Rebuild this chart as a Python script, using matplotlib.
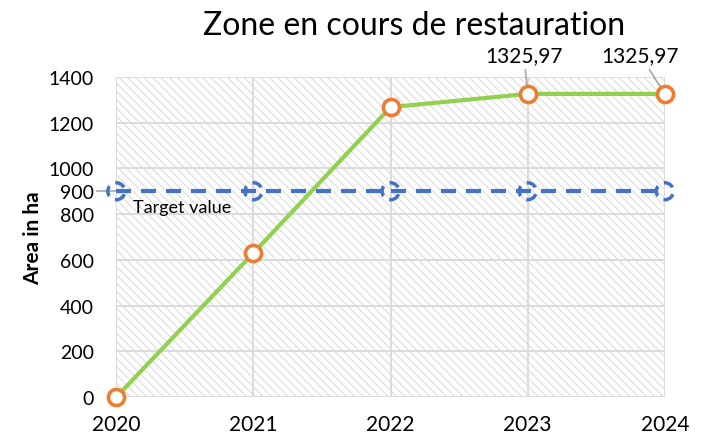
import matplotlib
matplotlib.use("Agg")
import matplotlib.pyplot as plt
from matplotlib.patches import Rectangle

plt.rcParams["font.family"] = ["Lato", "DejaVu Sans"]
plt.rcParams["hatch.linewidth"] = 0.8

years = ["2020", "2021", "2022", "2023", "2024"]
area = [0, 630, 1268, 1325.97, 1325.97]
target = [900, 900, 900, 900, 900]
yticks = [0, 200, 400, 600, 800, 900, 1000, 1200, 1400]

GREEN = "#92D050"
ORANGE = "#ED7D31"
BLUE = "#4472C4"
GRID = "#D9D9D9"

fig = plt.figure(figsize=(7.05, 4.39), dpi=100)
ax = fig.add_axes([0.165, 0.0934, 0.778, 0.729])
x = list(range(len(years)))

ax.set_xlim(0, len(years) - 1)
ax.set_ylim(0, 1400)

# hachures de fond
ax.add_patch(Rectangle((0, 0), 1, 1, transform=ax.transAxes, facecolor="white",
                       edgecolor="#DCDCDC", linewidth=0, hatch="\\\\\\\\", zorder=0))

for yv in [0, 200, 400, 600, 800, 1000, 1200, 1400]:
    ax.axhline(yv, color=GRID, lw=1.3, zorder=1)
for xv in x:
    ax.axvline(xv, color=GRID, lw=1.3, zorder=1)

ax.plot(x, target, color=BLUE, lw=3, ls=(0, (3.6, 2.4)), zorder=3, clip_on=False)
ax.scatter(x, target, s=150, facecolor="none", edgecolor=BLUE, linewidths=2.5,
           linestyle=(0, (3, 2)), zorder=4, clip_on=False)

ax.plot(x, area, color=GREEN, lw=3, zorder=5, clip_on=False)
ax.scatter(x, area, s=135, facecolor="white", edgecolor=ORANGE, linewidths=2.6,
           zorder=6, clip_on=False)

ax.text(0.12, 830, "Target value", fontsize=13, ha="left", va="center", zorder=7)

# étiquettes de données
ax.annotate("1325,97", xy=(x[3], area[3]), xytext=(x[3] - 0.31, 1450),
            fontsize=15, ha="left", va="bottom",
            arrowprops=dict(arrowstyle="-", color="#A6A6A6", lw=1.2,
                            shrinkA=1, shrinkB=5))
ax.annotate("1325,97", xy=(x[4], area[4]), xytext=(x[4] - 0.46, 1450),
            fontsize=15, ha="left", va="bottom",
            arrowprops=dict(arrowstyle="-", color="#A6A6A6", lw=1.2,
                            shrinkA=1, shrinkB=5))

ax.set_yticks(yticks)
ax.set_yticklabels([str(v) for v in yticks], fontsize=14)
ax.set_xticks(x)
ax.set_xticklabels(years, fontsize=15)
ax.tick_params(axis="y", length=0, pad=16)
ax.tick_params(axis="x", length=0, pad=12)
ax.plot([-0.14, 0], [900, 900], color="#A6A6A6", lw=1.2, clip_on=False, zorder=2)

for s in ax.spines.values():
    s.set_visible(False)

ax.set_ylabel("Area in ha", fontsize=15, fontweight="bold", labelpad=4)
fig.suptitle("Zone en cours de restauration", fontsize=23, x=0.587, y=0.975)

fig.savefig("out.png", dpi=100, facecolor="white")
